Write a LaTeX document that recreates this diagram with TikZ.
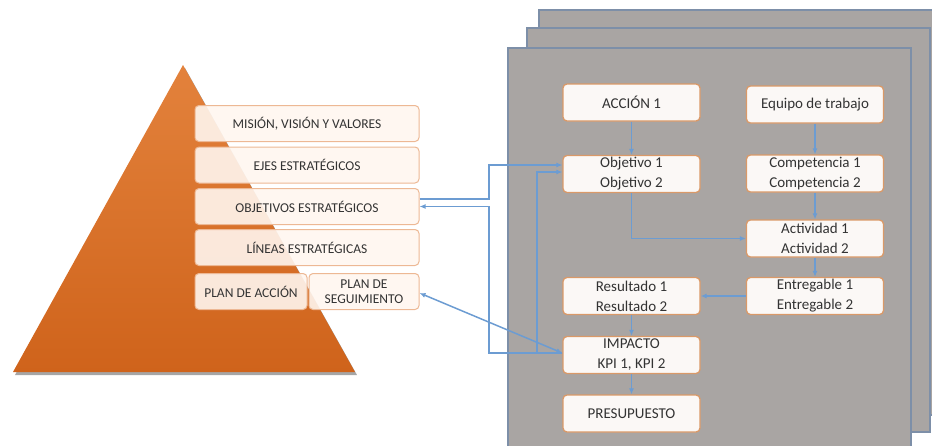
\documentclass[tikz,border=0pt]{standalone}
\usepackage{fontspec}
\setmainfont{Carlito}
\usetikzlibrary{arrows.meta,calc}
\definecolor{pyrtop}{HTML}{E3823C}
\definecolor{pyrbot}{HTML}{CF631B}
\definecolor{panelfill}{HTML}{A9A5A3}
\definecolor{panelborder}{HTML}{7D8FA8}
\definecolor{lborder}{HTML}{EDB894}
\definecolor{lfill}{HTML}{FFF6EF}
\definecolor{pborder}{HTML}{DA9968}
\definecolor{pfill}{HTML}{FBF8F6}
\definecolor{connc}{HTML}{6C9CD2}
\definecolor{txt}{HTML}{333333}
\newcommand\leftfnt{\fontsize{13.5}{15.5}\selectfont}
\newcommand\panelfnt{\fontsize{15}{20}\selectfont}
\begin{document}
\begin{tikzpicture}[x=1pt,y=-1pt,
  lbox/.style={draw=lborder, line width=1pt, fill=lfill, fill opacity=0.9, text opacity=1,
    rounded corners=4pt, minimum height=36pt, inner sep=1pt, align=center, font=\leftfnt, text=txt},
  pbox/.style={draw=pborder, line width=1.3pt, fill=pfill, rounded corners=4pt,
    minimum width=137pt, minimum height=37pt, inner sep=1pt, align=center, font=\panelfnt, text=txt},
  panel/.style={draw=panelborder, line width=1.5pt, fill=panelfill},
  conn/.style={draw=connc, line width=1.5pt},
  arr/.style={-{Latex[length=6pt,width=5pt]}},
  darr/.style={{Latex[length=6pt,width=5pt]}-{Latex[length=6pt,width=5pt]}}
]
\useasboundingbox (0,0) rectangle (932,445);

% pyramid
\fill[gray!70] (15,375) -- (185,68) -- (357,375) -- cycle;
\shade[top color=pyrtop, bottom color=pyrbot] (13,372) -- (183,65) -- (355,372) -- cycle;

% panels
\draw[panel] (539,10) rectangle (945,415);
\draw[panel] (527,28) rectangle (930,432);
\draw[panel] (508,48) rectangle (911,455);

% left boxes
\node[lbox, minimum width=224pt] (mvv) at (307,123.5) {MISIÓN, VISIÓN Y VALORES};
\node[lbox, minimum width=224pt] (ejes) at (307,165) {EJES ESTRATÉGICOS};
\node[lbox, minimum width=224pt] (oe) at (307,206.5) {OBJETIVOS ESTRATÉGICOS};
\node[lbox, minimum width=224pt] (lin) at (307,247.5) {LÍNEAS ESTRATÉGICAS};
\node[lbox, minimum width=112pt] (pa) at (251,291.5) {PLAN DE ACCIÓN};
\node[lbox, minimum width=110pt] (seg) at (364,291.5) {PLAN DE\\SEGUIMIENTO};

% panel boxes
\node[pbox] (acc) at (631.5,102.5) {ACCIÓN 1};
\node[pbox] (eq) at (815,104.5) {Equipo de trabajo};
\node[pbox] (obj) at (631.5,174) {Objetivo 1\\Objetivo 2};
\node[pbox] (comp) at (815,173.5) {Competencia 1\\Competencia 2};
\node[pbox] (act) at (815,238.5) {Actividad 1\\Actividad 2};
\node[pbox] (ent) at (815,296) {Entregable 1\\Entregable 2};
\node[pbox] (res) at (631.5,296) {Resultado 1\\Resultado 2};
\node[pbox] (imp) at (631.5,355) {IMPACTO\\KPI 1, KPI 2};
\node[pbox] (pres) at (631.5,413.5) {PRESUPUESTO};

% panel connectors
\draw[conn,arr] (acc) -- (obj);
\draw[conn,arr] (eq) -- (comp);
\draw[conn,arr] (comp) -- (act);
\draw[conn,arr] (obj.south) |- (act.west);
\draw[conn,arr] (act) -- (ent);
\draw[conn,arr] (ent) -- (res);
\draw[conn,arr] (res) -- (imp);
\draw[conn,arr] (imp) -- (pres);

% left connectors
\coordinate (xL) at (489,0);
\coordinate (xM) at (537,0);
\coordinate (oeA) at ($(oe.east)+(0,-7.5)$);
\coordinate (objA) at ($(obj.west)+(0,-9)$);
\coordinate (objB) at ($(obj.west)+(0,-2)$);
\coordinate (impA) at ($(imp.west)+(0,-2)$);
\coordinate (segA) at ($(seg.east)+(0,1.5)$);
\draw[conn,arr] (oeA) -- (oeA -| xL) -- (xL |- objA) -- (objA);
\draw[conn,arr] (impA) -- (impA -| xL) -- (xL |- oe.east) -- (oe.east);
\draw[conn,arr] (impA) -- (impA -| xM) -- (xM |- objB) -- (objB);
\draw[conn,darr] (segA) -- (impA);
\end{tikzpicture}
\end{document}
